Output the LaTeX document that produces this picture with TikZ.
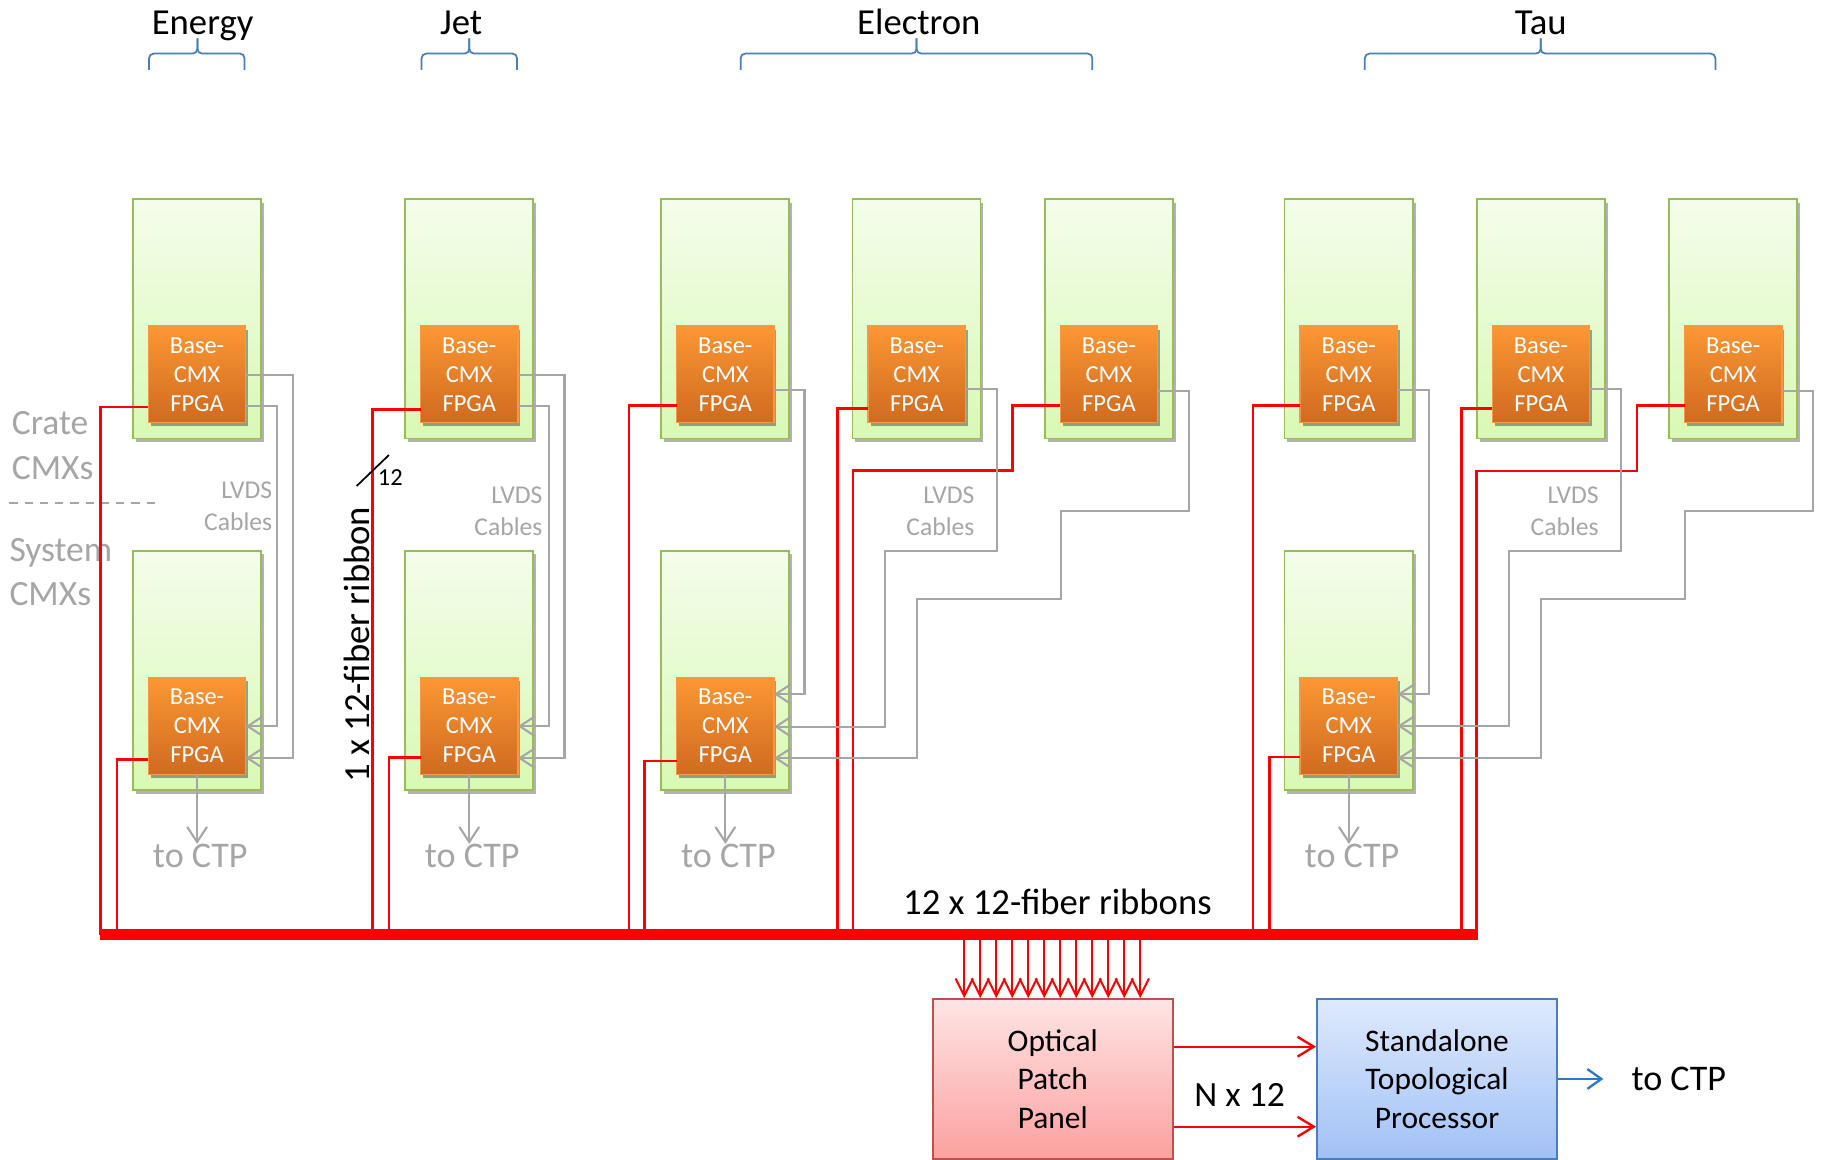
\documentclass[tikz,border=0pt]{standalone}
\usepackage{fontspec}
\setmainfont{Carlito}
\usetikzlibrary{arrows.meta,shadows}
\definecolor{grnB}{HTML}{9BBB59}
\definecolor{grnT}{HTML}{F4FDEB}
\definecolor{grnD}{HTML}{D8F9B4}
\definecolor{orgT}{HTML}{FB9733}
\definecolor{orgD}{HTML}{D06A20}
\definecolor{orgB}{HTML}{F79646}
\definecolor{lgray}{HTML}{A6A6A6}
\definecolor{pnlT}{HTML}{FEE4E4}
\definecolor{pnlD}{HTML}{FBA19F}
\definecolor{pnlB}{HTML}{C0504D}
\definecolor{stpT}{HTML}{DEE9FC}
\definecolor{stpD}{HTML}{A1C1F6}
\definecolor{stpB}{HTML}{4A7EBB}
\definecolor{brc}{HTML}{4A7EBB}
\definecolor{ctpblue}{HTML}{2A78C8}
\newcommand\cmxunit[3]{%
  \node[crate] (#1) at (#2,#3) {};
  \node[fpga] (#1f) at (#2+13.5,#3+109) {Base-\\CMX\\FPGA};}
\newcommand\hbrace[3]{%
  \draw[brc] (#1,60) -- (#1,46) -- (#2,46) -- (#2,33);
  \draw[brc] (#3,60) -- (#3,46) -- (#2,46) -- (#2,33);}
\begin{document}
\begin{tikzpicture}[x=1pt,y=-1pt,
  crate/.style={draw=grnB, line width=1.6pt, top color=grnT, bottom color=grnD,
    minimum width=110pt, minimum height=205.5pt, inner sep=0pt, outer sep=0pt, anchor=north west,
    drop shadow={shadow xshift=2.5pt, shadow yshift=-3pt, opacity=0.3, fill=black}},
  fpga/.style={draw=orgB, line width=1.3pt, top color=orgT, bottom color=orgD,
    minimum width=83.5pt, minimum height=83pt, inner sep=0pt, outer sep=0pt, anchor=north west,
    text=white, align=center, font=\fontsize{21}{25}\selectfont,
    drop shadow={shadow xshift=2pt, shadow yshift=-3pt, opacity=0.35, fill=black}},
  hdr/.style={inner sep=0pt, anchor=base, font=\fontsize{31.5}{38}\selectfont},
  gtxt/.style={inner sep=0pt, text=lgray},
  lvdstxt/.style={gtxt, anchor=base east, font=\fontsize{22}{26}\selectfont},
  sidetxt/.style={gtxt, anchor=base west, font=\fontsize{30.5}{36}\selectfont},
  ctptxt/.style={gtxt, anchor=base, font=\fontsize{31}{36}\selectfont},
  brc/.style={draw=brc, line width=1.5pt, rounded corners=4pt},
  ribbon/.style={draw=red, line width=2.3pt},
  lvds/.style={draw=lgray, line width=1.8pt, -{Straight Barb[length=13pt,width=17pt]}},
  fiber/.style={draw=red, line width=1.7pt, -{Straight Barb[length=15pt,width=15pt]}},
  pnlarrow/.style={draw=red, line width=2pt, -{Straight Barb[length=14pt,width=17pt]}},
  bluearrow/.style={draw=ctpblue, line width=2pt, -{Straight Barb[length=12pt,width=17pt]}},
  bigbox/.style={line width=1.8pt, minimum width=206pt, minimum height=137pt, inner sep=0pt,
    align=center, font=\fontsize{27}{33}\selectfont}
]
\fill[white] (0,0) rectangle (1568,996);
\useasboundingbox (0,0) rectangle (1568,996);

% headers and braces
\node[hdr] (hE) at (174,29.3) {Energy};
\node[hdr] (hJ) at (396,29.3) {Jet};
\node[hdr] (hL) at (789,29.3) {Electron};
\node[hdr] (hT) at (1323,29.3) {Tau};
\hbrace{128}{169.5}{210}
\hbrace{362}{403}{444}
\hbrace{636}{787}{938}
\hbrace{1172}{1323}{1473}

% crates with FPGAs
\cmxunit{E1}{114}{171}
\cmxunit{E2}{114}{473}
\cmxunit{J1}{347.7}{171}
\cmxunit{J2}{347.7}{473}
\cmxunit{L1}{567.6}{171}
\cmxunit{L2}{732}{171}
\cmxunit{L3}{897}{171}
\cmxunit{L4}{567.6}{473}
\cmxunit{T1}{1103}{171}
\cmxunit{T2}{1268}{171}
\cmxunit{T3}{1433}{171}
\cmxunit{T4}{1103}{473}

% side labels
\node[sidetxt] (s1) at (10,373.5) {Crate};
\node[sidetxt] (s2) at (10,412) {CMXs};
\node[sidetxt] (s3) at (8,482) {System};
\node[sidetxt] (s4) at (8,519.7) {CMXs};
\draw[lgray, line width=1.6pt, dash pattern=on 7.2pt off 5.9pt] (8,432) -- (133,432);

% LVDS labels
\node[lvdstxt] (lv1) at (234,428) {LVDS};
\node[lvdstxt] (cb1) at (234,455.6) {Cables};
\node[lvdstxt] (lv2) at (466,432) {LVDS};
\node[lvdstxt] (cb2) at (466,459.5) {Cables};
\node[lvdstxt] (lv3) at (837,432) {LVDS};
\node[lvdstxt] (cb3) at (837,459.5) {Cables};
\node[lvdstxt] (lv4) at (1373,432) {LVDS};
\node[lvdstxt] (cb4) at (1373,459.5) {Cables};

% bus
\coordinate (busL) at (85.5,802.5);
\coordinate (busR) at (1269.5,802.5);
\draw[red, line width=9.6pt] (busL) -- (busR);

% red fibre ribbons
\draw[ribbon] (E1f.west |- 0,349.5) -| (busL -| 86.5,0);
\draw[ribbon] (E2f.west |- 0,652) -| (busL -| 100.5,0);
\draw[ribbon] (J1f.west |- 0,351.5) -| (busL -| 320,0);
\draw[ribbon] (J2f.west |- 0,650.7) -| (busL -| 334,0);
\draw[ribbon] (L1f.west |- 0,348) -| (busL -| 540,0);
\draw[ribbon] (L4f.west |- 0,653.5) -| (busL -| 553.7,0);
\draw[ribbon] (L2f.west |- 0,351) -| (busL -| 719,0);
\draw[ribbon] (L3f.west |- 0,348) -| (869.5,404) -| (busL -| 732.4,0);
\draw[ribbon] (T1f.west |- 0,348) -| (busL -| 1076,0);
\draw[ribbon] (T4f.west |- 0,650) -| (busL -| 1090,0);
\draw[ribbon] (T2f.west |- 0,351) -| (busL -| 1254.7,0);
\draw[ribbon] (T3f.west |- 0,348) -| (1405.6,404.5) -| (busL -| 1268,0);

% LVDS cables
\draw[lvds] (E1f.east |- 0,322) -| (251.4,651) -- (E2f.east |- 0,651);
\draw[lvds] (E1f.east |- 0,349) -| (237.6,623.6) -- (E2f.east |- 0,623.6);
\draw[lvds] (J1f.east |- 0,322) -| (484.7,651) -- (J2f.east |- 0,651);
\draw[lvds] (J1f.east |- 0,349) -| (471.6,623.6) -- (J2f.east |- 0,623.6);
\draw[lvds] (L1f.east |- 0,335) -| (690.8,596) -- (L4f.east |- 0,596);
\draw[lvds] (L2f.east |- 0,334) -| (856,473) -| (759.8,624) -- (L4f.east |- 0,624);
\draw[lvds] (L3f.east |- 0,336) -| (1020.8,439) -| (911,514) -| (787.6,651) -- (L4f.east |- 0,651);
\draw[lvds] (T1f.east |- 0,335) -| (1227,596) -- (T4f.east |- 0,596);
\draw[lvds] (T2f.east |- 0,334) -| (1392,473) -| (1296,623.4) -- (T4f.east |- 0,623.4);
\draw[lvds] (T3f.east |- 0,336) -| (1556.7,439) -| (1446.6,514) -| (1323,651) -- (T4f.east |- 0,651);

% to CTP
\node[ctptxt] (cE) at (172,745) {to CTP};
\node[ctptxt] (cJ) at (405.5,745) {to CTP};
\node[ctptxt] (cL) at (625.5,745) {to CTP};
\node[ctptxt] (cT) at (1161,745) {to CTP};
\draw[lvds] (E2f.south) -- (cE.north -| E2f.south);
\draw[lvds] (J2f.south) -- (cJ.north -| J2f.south);
\draw[lvds] (L4f.south) -- (cL.north -| L4f.south);
\draw[lvds] (T4f.south) -- (cT.north -| T4f.south);

% ribbon labels
\node[inner sep=0pt, anchor=base west, rotate=90, font=\fontsize{31.5}{38}\selectfont] (r1) at (317,672) {1 x 12-fiber ribbon};
\draw[black, line width=1.5pt] (306.3,417.3) -- (334,390.7);
\node[inner sep=0pt, anchor=base west, font=\fontsize{21}{25}\selectfont] (r12) at (324.3,416.5) {12};
\node[inner sep=0pt, anchor=base east, font=\fontsize{31.5}{38}\selectfont] (r2) at (1040.7,785.7) {12 x 12-fiber ribbons};

% optical patch panel and processor
\node[bigbox, draw=pnlB, top color=pnlT, bottom color=pnlD] (opp) at (904,926.5) {Optical\\Patch\\Panel};
\node[bigbox, draw=stpB, top color=stpT, bottom color=stpD] (stp) at (1234,926.5) {Standalone\\Topological\\Processor};

\foreach \i in {0,...,11}{
  \path ([xshift={27.9pt+13.74pt*\i}]opp.north west) coordinate (fa\i);
  \draw[fiber] (fa\i |- busL) -- (fa\i);
}
\draw[pnlarrow] (opp.east |- 0,898.8) -- (stp.west |- 0,898.8);
\draw[pnlarrow] (opp.east |- 0,967.5) -- (stp.west |- 0,967.5);
\node[inner sep=0pt, anchor=base, font=\fontsize{30.5}{36}\selectfont] (nx) at (1064.5,950) {N x 12};
\node[inner sep=0pt, anchor=base west, font=\fontsize{31}{36}\selectfont] (cOut) at (1400.8,936.6) {to CTP};
\draw[bluearrow, shorten >=24pt] (stp.east) -- (cOut.west |- stp.east);
\end{tikzpicture}
\end{document}
